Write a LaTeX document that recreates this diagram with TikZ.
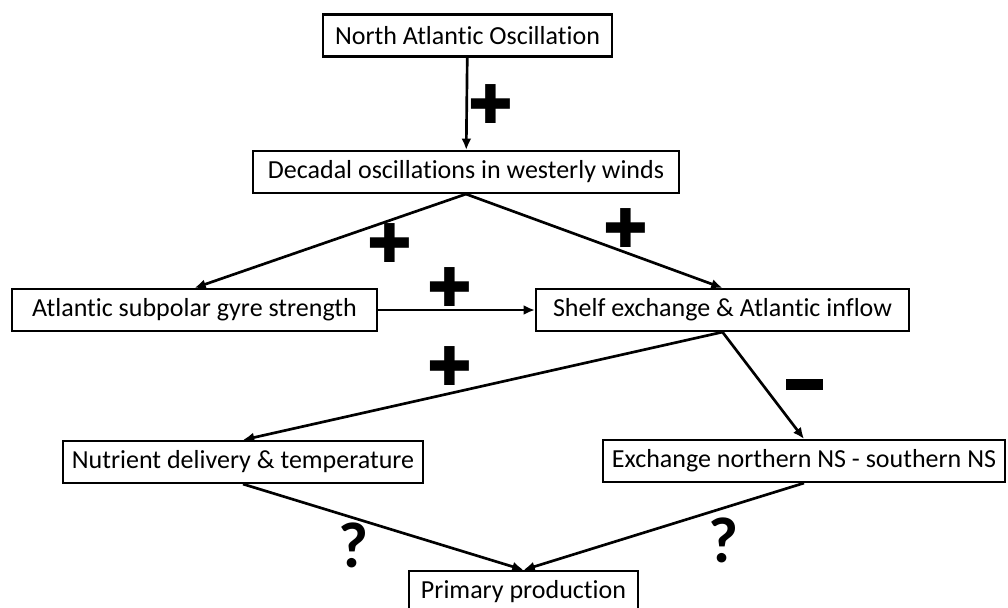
\documentclass[tikz,border=0pt]{standalone}
\usepackage{fontspec}
\setmainfont{Carlito}[Ligatures=CommonOff]
\newfontfamily\signfont{DejaVu Sans}
\usepackage{tikz}
\usetikzlibrary{arrows.meta}
\tikzset{
  % Plain causal box
  cbox/.style={rectangle,draw=black,line width=1.5pt,
    minimum height=1.05cm,inner sep=2pt,align=center,
    font=\fontsize{18.5}{22}\selectfont},
  % Arrows
  arr/.style={-{Latex[length=8pt,width=7pt]},line width=1.9pt},
  % Signs on the links
  possign/.style={font=\signfont\fontsize{38}{38}\selectfont,inner sep=0pt},
  negsign/.style={rectangle,fill=black,minimum width=0.925cm,
    minimum height=0.275cm,inner sep=0pt},
  qsign/.style={font=\bfseries\fontsize{46}{46}\selectfont,inner sep=0pt},
}

\begin{document}
\begin{tikzpicture}[x=0.025cm,y=-0.025cm]
  \useasboundingbox (0,0) rectangle (1008,607);

  %% --- DRIVERS ---
  \node[cbox,minimum width=7.225cm] (nao) at (467.5,35.5) {North Atlantic Oscillation};
  \node[cbox,minimum width=10.65cm] (dec) at (466,172) {Decadal oscillations in westerly winds};

  %% --- OCEAN RESPONSE ---
  \node[cbox,minimum width=9.125cm] (gyre) at (194.5,310) {Atlantic subpolar gyre strength};
  \node[cbox,minimum width=9.325cm] (shelf) at (722.5,310) {Shelf exchange \& Atlantic inflow};

  %% --- NORTH SEA ---
  \node[cbox,minimum width=9.0cm] (nut) at (243,462) {Nutrient delivery \& temperature};
  \node[cbox,minimum width=10.05cm] (exch) at (804,461) {Exchange northern NS - southern NS};
  \node[cbox,minimum width=5.725cm] (prim) at (523.5,592) {Primary production};

  \draw[arr] (nao) -- (dec);
  \draw[arr] (dec.south) -- (gyre.north);
  \draw[arr] (dec.south) -- (shelf.north);
  \draw[arr] (gyre) -- (shelf);
  \draw[arr] (shelf.south) -- (nut.north);
  \draw[arr] (shelf.south) -- (exch.north);
  \draw[arr] (nut.south) -- (prim.north);
  \draw[arr] (exch.south) -- (prim.north);

  % Signs
  \node[possign] (s1) at (491,104) {✚};
  \node[possign] (s2) at (390,243) {✚};
  \node[possign] (s3) at (626,228) {✚};
  \node[possign] (s4) at (450,287) {✚};
  \node[possign] (s5) at (450,366) {✚};
  \node[negsign] (s6) at (804.5,384.5) {};
  \node[qsign] (q1) at (353,545) {?};
  \node[qsign] (q2) at (723,540) {?};
\end{tikzpicture}
\end{document}
